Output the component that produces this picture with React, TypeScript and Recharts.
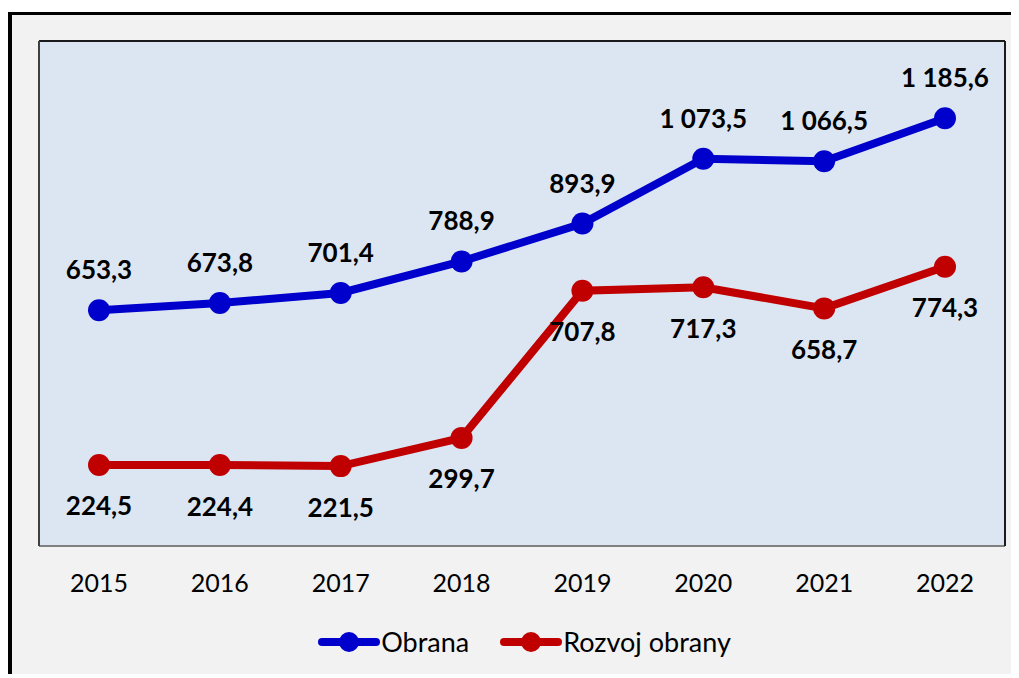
import React from 'react';
import { LineChart, Line, XAxis, YAxis, CartesianGrid, LabelList, Legend } from 'recharts';

const years = ['2015', '2016', '2017', '2018', '2019', '2020', '2021', '2022'];
const obrana = [653.3, 673.8, 701.4, 788.9, 893.9, 1073.5, 1066.5, 1185.6];
const rozvoj = [224.5, 224.4, 221.5, 299.7, 707.8, 717.3, 658.7, 774.3];
const seriesNames = ['Obrana', 'Rozvoj obrany'];
const colors = ['#0000CC', '#C00000'];

const data = years.map((y, i) => ({ year: y, obrana: obrana[i], rozvoj: rozvoj[i] }));

const fmt = (v: any) => {
  const s = Number(v).toFixed(1);
  const [int, dec] = s.split('.');
  const grouped = int.replace(/\B(?=(\d{3})+(?!\d))/g, ' ');
  return `${grouped},${dec}`;
};

const FONT = 'Lato, "Open Sans", sans-serif';

const LegendContent = () => (
  <div style={{ display: 'flex', justifyContent: 'center', alignItems: 'center', height: 40, paddingLeft: 18, fontFamily: FONT, fontSize: 27, color: '#000' }}>
    {seriesNames.map((n, i) => (
      <div key={n} style={{ display: 'flex', alignItems: 'center', marginRight: i === 0 ? 31 : 0 }}>
        <svg width={62} height={26} style={{ display: 'block' }}>
          <line x1={4} y1={13} x2={58} y2={13} stroke={colors[i]} strokeWidth={8} strokeLinecap="round" />
          <circle cx={31} cy={13} r={10} fill={colors[i]} />
        </svg>
        <span style={{ marginLeft: 1, lineHeight: '40px' }}>{n}</span>
      </div>
    ))}
  </div>
);

export default function App() {
  return (
    <div style={{ position: 'relative', top: 4, width: 1007, height: 663, borderTop: '3px solid #000', borderLeft: '4px solid #000', background: '#F2F2F2' }}>
      <LineChart width={1007} height={663} data={data} margin={{ top: 25, left: 26, right: 13, bottom: 32 }}>
        <CartesianGrid horizontal={false} vertical={false} fill="#DCE6F2" fillOpacity={1} />
        <XAxis
          dataKey="year"
          height={60}
          padding={{ left: 60, right: 60 }}
          axisLine={{ stroke: '#808080', strokeWidth: 2 }}
          tickLine={false}
          tickSize={0}
          tickMargin={28}
          tick={{ fill: '#000', fontSize: 25, fontFamily: FONT }}
          interval={0}
        />
        <XAxis xAxisId="border-top" orientation="top" dataKey="year" height={1} tick={false} tickLine={false} axisLine={{ stroke: '#1a1a1a', strokeWidth: 2 }} />
        <YAxis domain={[0, 1400]} width={1} tick={false} tickLine={false} axisLine={{ stroke: '#404040', strokeWidth: 2 }} />
        <YAxis yAxisId="border-right" orientation="right" domain={[0, 1400]} width={1} tick={false} tickLine={false} axisLine={{ stroke: '#1a1a1a', strokeWidth: 2 }} />
        <Legend verticalAlign="bottom" content={<LegendContent />} wrapperStyle={{ top: 607, bottom: 'auto', left: 0, width: 1007, height: 40 }} />
        <Line dataKey="obrana" name={seriesNames[0]} stroke={colors[0]} strokeWidth={8} dot={{ r: 11, fill: colors[0], stroke: colors[0], strokeWidth: 0 }} activeDot={false} isAnimationActive={false}>
          <LabelList dataKey="obrana" position="top" offset={31} formatter={fmt} fill="#000" fontSize={26} fontWeight={700} fontFamily={FONT} />
        </Line>
        <Line dataKey="rozvoj" name={seriesNames[1]} stroke={colors[1]} strokeWidth={8} dot={{ r: 11, fill: colors[1], stroke: colors[1], strokeWidth: 0 }} activeDot={false} isAnimationActive={false}>
          <LabelList dataKey="rozvoj" position="bottom" offset={32} formatter={fmt} fill="#000" fontSize={26} fontWeight={700} fontFamily={FONT} />
        </Line>
      </LineChart>
    </div>
  );
}
